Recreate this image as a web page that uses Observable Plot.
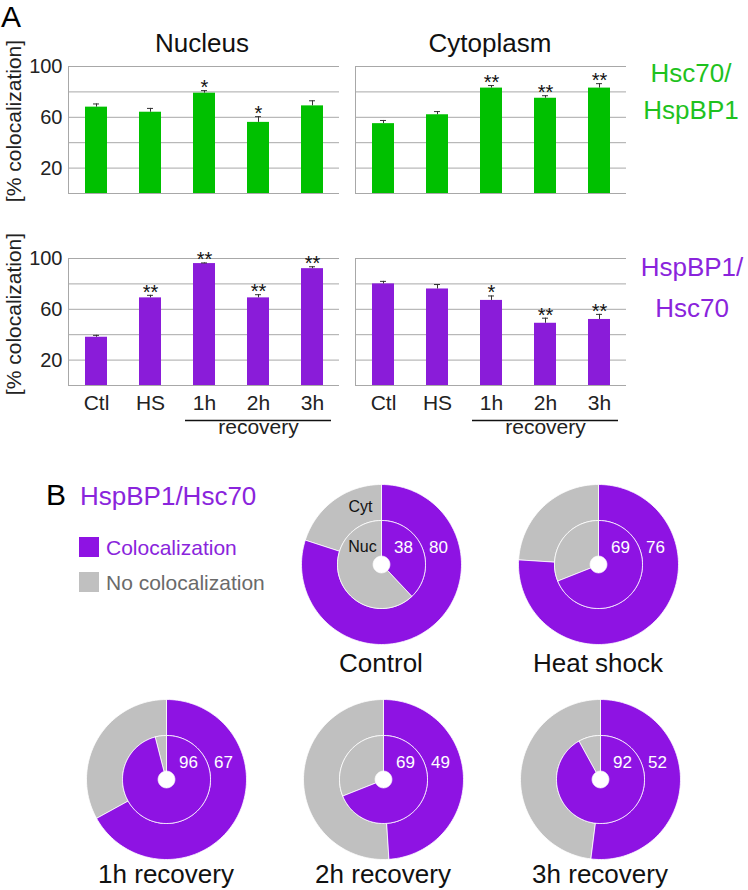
<!DOCTYPE html>
<html><head><meta charset="utf-8">
<script src="https://cdn.jsdelivr.net/npm/d3@7"></script>
<script src="https://cdn.jsdelivr.net/npm/@observablehq/plot@0.6"></script>
<style>
body{margin:0;background:#fff;font-family:Arial,"Liberation Sans",Helvetica,sans-serif;}
#fig{position:relative;width:748px;height:890px;overflow:hidden;background:#fff;}
.abs{position:absolute;white-space:nowrap;line-height:1;}
#fig svg{position:absolute;overflow:visible;}
</style></head><body><div id="fig"></div>
<script>
// ---------- data ----------
const categories = ["Ctl", "HS", "1h", "2h", "3h"];
const compartments = ["Nucleus", "Cytoplasm"];
const recoveryGroup = ["1h", "2h", "3h"];
const recoveryLabel = "recovery";

const hsc70Nucleus      = [68, 64, 79, 56, 69];
const hsc70NucleusErr   = [2.5, 3, 2, 4.5, 4];
const hsc70NucleusSig   = ["", "", "*", "*", ""];
const hsc70Cytoplasm    = [55, 62, 83, 75, 83];
const hsc70CytoplasmErr = [2.5, 2.5, 2, 2, 3.5];
const hsc70CytoplasmSig = ["", "", "**", "**", "**"];

const hspbp1Nucleus      = [38, 69, 96, 69, 92];
const hspbp1NucleusErr   = [1.5, 2, 0.5, 2.5, 1.5];
const hspbp1NucleusSig   = ["", "**", "**", "**", "**"];
const hspbp1Cytoplasm    = [80, 76, 67, 49, 52];
const hspbp1CytoplasmErr = [2, 3.5, 3.5, 4, 4];
const hspbp1CytoplasmSig = ["", "", "*", "**", "**"];

const yTickLabels = [20, 60, 100];
const yGridLines = [0, 20, 40, 60, 80, 100];

const donutConditions = ["Control", "Heat shock", "1h recovery", "2h recovery", "3h recovery"];
const donutNucleus   = [38, 69, 96, 69, 92];
const donutCytoplasm = [80, 76, 67, 49, 52];
const legendKinds = ["Colocalization", "No colocalization"];
const ringLabels = ["Cyt", "Nuc"];

// ---------- style ----------
const FONT = "Arial, 'Liberation Sans', Helvetica, sans-serif";
const GREEN = "#00c000", GREEN_TEXT = "#1ec21e";
const PURPLE_BAR = "#8a1cd9", PURPLE = "#8e13e3", PURPLE_TEXT = "#8a24dc";
const GRAY = "#c0c0c0", GRID = "#a8a8a8";

const fig = document.getElementById("fig");
function label(text, x, baseline, size, color, anchor = "start") {
  const d = document.createElement("div");
  d.className = "abs";
  d.textContent = text;
  d.style.fontSize = size + "px";
  d.style.color = color;
  d.style.top = (baseline - 0.8465 * size) + "px";
  d.style.left = x + "px";
  if (anchor === "middle") d.style.transform = "translateX(-50%)";
  fig.appendChild(d);
  return d;
}
function vlabel(text, cx, cy, size, color) {
  const d = document.createElement("div");
  d.className = "abs";
  d.textContent = text;
  d.style.fontSize = size + "px";
  d.style.color = color;
  d.style.left = cx + "px";
  d.style.top = cy + "px";
  d.style.transform = "translate(-50%,-50%) rotate(-90deg)";
  fig.appendChild(d);
}
function place(el, left, top) {
  el.style.left = left + "px";
  el.style.top = top + "px";
  fig.appendChild(el);
}

// ---------- panel A: bar rows ----------
function barRow(series, color, showX) {
  const rows = [];
  compartments.forEach((comp, j) => {
    const s = series[j];
    categories.forEach((cat, i) => rows.push({
      compartment: comp, cat, value: s.values[i], top: s.values[i] + s.errors[i], sig: s.sig[i]
    }));
  });
  const recoveryRows = compartments.map(c => ({
    compartment: c, from: recoveryGroup[0], mid: recoveryGroup[1], to: recoveryGroup[recoveryGroup.length - 1], label: recoveryLabel
  }));
  const height = showX ? 200 : 145;
  const marks = [
    Plot.gridY(yGridLines, {stroke: GRID, strokeOpacity: 1, strokeWidth: 1}),
    Plot.frame({anchor: "left", stroke: GRID, strokeWidth: 1}),
    Plot.barY(rows, {fx: "compartment", x: "cat", y: "value", fill: color}),
    Plot.ruleX(rows, {fx: "compartment", x: "cat", y1: "value", y2: "top", stroke: "#333", strokeWidth: 1}),
    Plot.tickY(rows, {fx: "compartment", x: "cat", y: "top", stroke: "#333", strokeWidth: 1, insetLeft: 8, insetRight: 8}),
    Plot.text(rows.filter(d => d.sig), {fx: "compartment", x: "cat", y: "top", text: "sig", fontSize: 20, dy: -3, fill: "#111"}),
    Plot.axisY(yTickLabels, {tickSize: 0, tickPadding: 6, fontSize: 20, fill: "#222", label: null})
  ];
  if (showX) {
    marks.push(
      Plot.axisX({tickSize: 0, tickPadding: 10, fontSize: 21, fill: "#222", label: null}),
      Plot.ruleY(recoveryRows, {fx: "compartment", x1: "from", x2: "to", y: 0, dy: 35, insetLeft: -8, insetRight: -8, stroke: "#111", strokeWidth: 1.3}),
      Plot.text(recoveryRows, {fx: "compartment", x: "mid", frameAnchor: "bottom", dy: 48, text: "label", fontSize: 21, fill: "#222"})
    );
  }
  return Plot.plot({
    width: 748, height,
    marginLeft: 67, marginRight: 122, marginTop: 10, marginBottom: height - 10 - 127,
    style: {fontFamily: FONT, background: "transparent", overflow: "visible"},
    fx: {domain: compartments, paddingInner: 16 / 287, paddingOuter: 0, axis: null, label: null},
    x: showX ? {domain: categories, paddingInner: 0.594, paddingOuter: 0.297, label: null}
             : {domain: categories, paddingInner: 0.594, paddingOuter: 0.297, axis: null, label: null},
    y: {domain: [0, 100], label: null},
    marks
  });
}

place(barRow([
  {values: hsc70Nucleus, errors: hsc70NucleusErr, sig: hsc70NucleusSig},
  {values: hsc70Cytoplasm, errors: hsc70CytoplasmErr, sig: hsc70CytoplasmSig}
], GREEN, false), 0, 56);

place(barRow([
  {values: hspbp1Nucleus, errors: hspbp1NucleusErr, sig: hspbp1NucleusSig},
  {values: hspbp1Cytoplasm, errors: hspbp1CytoplasmErr, sig: hspbp1CytoplasmSig}
], PURPLE_BAR, true), 0, 248);

label("A", 1, 27, 30, "#000");
label(compartments[0], 202, 52, 26, "#111", "middle");
label(compartments[1], 490, 52, 26, "#111", "middle");
label("Hsc70/", 691, 82, 26, GREEN_TEXT, "middle");
label("HspBP1", 691, 119, 26, GREEN_TEXT, "middle");
label("HspBP1/", 692, 276, 26, PURPLE_TEXT, "middle");
label("Hsc70", 692, 317, 26, PURPLE_TEXT, "middle");
vlabel("[% colocalization]", 13, 121, 21, "#222");
vlabel("[% colocalization]", 13, 314, 21, "#222");

// ---------- panel B: donuts ----------
function ringPolygons(frac, r0, r1, ring) {
  const parts = [[legendKinds[0], 0, frac], [legendKinds[1], frac, 1]];
  const pts = [];
  for (const [kind, a, b] of parts) {
    if (b - a <= 0) continue;
    const n = Math.max(2, Math.ceil((b - a) * 180));
    const id = ring + "-" + kind;
    for (let k = 0; k <= n; k++) {
      const t = 2 * Math.PI * (a + (b - a) * k / n);
      pts.push({id, kind, x: r1 * Math.sin(t), y: r1 * Math.cos(t)});
    }
    for (let k = n; k >= 0; k--) {
      const t = 2 * Math.PI * (a + (b - a) * k / n);
      pts.push({id, kind, x: r0 * Math.sin(t), y: r0 * Math.cos(t)});
    }
  }
  return pts;
}

function donut(i) {
  const pts = [
    ...ringPolygons(donutCytoplasm[i] / 100, 0.55, 1, "cyt"),
    ...ringPolygons(donutNucleus[i] / 100, 0.105, 0.55, "nuc")
  ];
  const marks = [
    Plot.line(pts, {x: "x", y: "y", z: "id", fill: "kind", stroke: "#fff", strokeWidth: 0.8, curve: "linear-closed"}),
    Plot.text([donutNucleus[i]], {frameAnchor: "middle", dx: 22, dy: -17, text: d => String(d), fill: "#fff", fontSize: 17}),
    Plot.text([donutCytoplasm[i]], {frameAnchor: "middle", dx: 57, dy: -17, text: d => String(d), fill: "#fff", fontSize: 17})
  ];
  if (i === 0) {
    marks.push(
      Plot.text([ringLabels[0]], {frameAnchor: "middle", dx: -21, dy: -58, text: d => d, fill: "#111", fontSize: 16}),
      Plot.text([ringLabels[1]], {frameAnchor: "middle", dx: -19, dy: -18, text: d => d, fill: "#111", fontSize: 16})
    );
  }
  return Plot.plot({
    width: 170, height: 170, margin: 5,
    style: {fontFamily: FONT, background: "transparent", overflow: "visible"},
    x: {domain: [-1, 1], axis: null},
    y: {domain: [-1, 1], axis: null},
    color: {domain: legendKinds, range: [PURPLE, GRAY]},
    marks
  });
}

const donutCenters = [[381, 564], [598, 564], [166, 779], [383, 779], [600, 779]];
const captionBaselines = [672, 672, 883, 883, 883];
donutConditions.forEach((c, i) => {
  const [cx, cy] = donutCenters[i];
  place(donut(i), cx - 85, cy - 85);
  label(c, cx, captionBaselines[i], 26, "#111", "middle");
});

label("B", 46, 505, 30, "#000");
label("HspBP1/Hsc70", 80, 505, 26, PURPLE_TEXT);
// legend
[[legendKinds[0], PURPLE, PURPLE_TEXT, 537], [legendKinds[1], GRAY, "#6a6a6a", 572]].forEach(([t, sw, tc, top]) => {
  const s = document.createElement("div");
  s.className = "abs";
  s.style.left = "79px"; s.style.top = top + "px";
  s.style.width = "20px"; s.style.height = "20px"; s.style.background = sw;
  fig.appendChild(s);
  label(t, 106, top + 18, 21, tc);
});
</script>
</body></html>
